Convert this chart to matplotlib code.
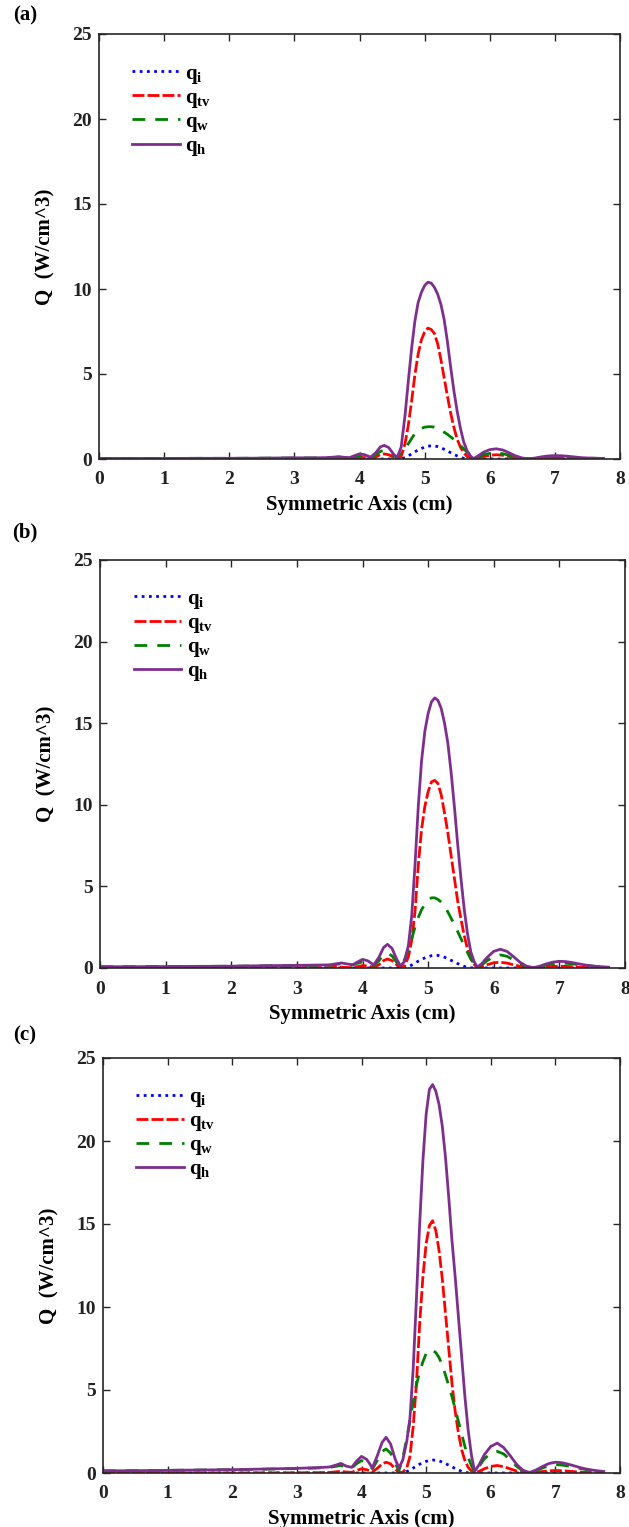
import matplotlib
matplotlib.use("Agg")
import matplotlib.pyplot as plt

plt.rcParams['font.family'] = ['Liberation Serif', 'DejaVu Serif']
plt.rcParams['font.weight'] = 'bold'
plt.rcParams['mathtext.fontset'] = 'custom'
plt.rcParams['mathtext.rm'] = 'Liberation Serif'
plt.rcParams['mathtext.bf'] = 'Liberation Serif:bold'
plt.rcParams['mathtext.it'] = 'Liberation Serif:italic'

# shared x positions (cm)
x = [0, 0.5, 1.0, 1.5, 2.0, 2.5, 3.0, 3.3, 3.5, 3.6, 3.68, 3.76, 3.85, 3.92,
     4.0, 4.08, 4.17, 4.25, 4.32, 4.38, 4.45, 4.52, 4.58, 4.64, 4.7, 4.75,
     4.8, 4.85, 4.9, 4.95, 5.0, 5.05, 5.1, 5.15, 5.2, 5.25, 5.3, 5.35, 5.4,
     5.45, 5.5, 5.55, 5.6, 5.65, 5.7, 5.75, 5.82, 5.9, 6.0, 6.1, 6.2, 6.3,
     6.4, 6.5, 6.6, 6.7, 6.8, 6.9, 7.0, 7.1, 7.2, 7.3, 7.4, 7.5, 7.6, 7.75]

qi_vals = [0, 0, 0, 0, 0, 0, 0, 0, 0, 0, 0, 0, 0, 0,
           0, 0, 0, 0, 0, 0, 0, 0, 0, 0.01, 0.08, 0.18,
           0.3, 0.42, 0.53, 0.62, 0.7, 0.75, 0.78, 0.77, 0.73, 0.66, 0.57, 0.47, 0.37,
           0.27, 0.18, 0.1, 0.04, 0.01, 0, 0, 0, 0, 0, 0, 0, 0,
           0, 0, 0, 0, 0, 0, 0, 0, 0, 0, 0, 0, 0, 0]

# ---------- panel (a) ----------
a_qi = qi_vals
a_qtv = [0, 0, 0, 0, 0, 0, 0.01, 0.01, 0.01, 0.02, 0.03, 0.02, 0.01, 0.05,
         0.1, 0.08, 0.03, 0.12, 0.26, 0.3, 0.25, 0.1, 0.01, 0.15, 0.92, 2.0,
         3.39, 4.93, 6.16, 7.0, 7.47, 7.7, 7.62, 7.39, 6.78, 5.85, 4.77, 3.7, 2.7,
         1.85, 1.16, 0.69, 0.39, 0.15, 0.08, 0.0, 0.06, 0.14, 0.22, 0.25, 0.22, 0.14,
         0.07, 0.02, 0.0, 0.02, 0.05, 0.07, 0.08, 0.07, 0.06, 0.04, 0.02, 0.01, 0.01, 0.0]
a_qw = [0.03, 0.03, 0.03, 0.04, 0.04, 0.05, 0.06, 0.06, 0.07, 0.09, 0.1, 0.08, 0.07, 0.14,
        0.2, 0.17, 0.08, 0.25, 0.45, 0.5, 0.42, 0.2, 0.08, 0.45, 0.65, 0.9,
        1.2, 1.5, 1.68, 1.8, 1.87, 1.9, 1.9, 1.87, 1.8, 1.7, 1.58, 1.45, 1.3,
        1.15, 0.98, 0.8, 0.6, 0.4, 0.2, 0.02, 0.12, 0.25, 0.33, 0.35, 0.31, 0.22,
        0.11, 0.04, 0.01, 0.04, 0.08, 0.11, 0.12, 0.12, 0.1, 0.08, 0.06, 0.05, 0.04, 0.03]
a_qh = [0.03, 0.03, 0.03, 0.04, 0.04, 0.05, 0.07, 0.07, 0.08, 0.11, 0.14, 0.1, 0.08, 0.19,
        0.3, 0.25, 0.11, 0.37, 0.71, 0.8, 0.67, 0.3, 0.09, 0.7, 2.6, 4.6,
        6.5, 8.1, 9.2, 9.8, 10.2, 10.4, 10.35, 10.1, 9.7, 9.1, 8.2, 6.9, 5.4,
        4.0, 2.8, 1.8, 1.0, 0.5, 0.2, 0.02, 0.18, 0.39, 0.55, 0.6, 0.53, 0.36,
        0.18, 0.06, 0.01, 0.06, 0.13, 0.18, 0.2, 0.19, 0.16, 0.12, 0.08, 0.06, 0.05, 0.03]

# ---------- panel (b) ----------
b_qi = qi_vals
b_qtv = [0, 0, 0, 0, 0, 0.01, 0.01, 0.02, 0.02, 0.04, 0.05, 0.03, 0.02, 0.08,
         0.15, 0.12, 0.04, 0.2, 0.45, 0.55, 0.45, 0.2, 0.02, 0.12, 0.69, 1.7,
         3.45, 6.3, 8.5, 9.9, 10.8, 11.4, 11.5, 11.3, 10.6, 9.5, 8.3, 6.9, 5.5,
         4.1, 3.0, 2.0, 1.15, 0.58, 0.23, 0.02, 0.08, 0.2, 0.32, 0.35, 0.3, 0.2,
         0.1, 0.03, 0.0, 0.03, 0.07, 0.1, 0.11, 0.1, 0.08, 0.05, 0.03, 0.02, 0.01, 0.0]
b_qw = [0.08, 0.08, 0.09, 0.1, 0.11, 0.13, 0.15, 0.16, 0.17, 0.22, 0.26, 0.22, 0.18, 0.28,
        0.38, 0.32, 0.15, 0.45, 0.8, 0.9, 0.75, 0.35, 0.1, 0.5, 1.2, 1.8,
        2.5, 3.1, 3.57, 3.9, 4.17, 4.3, 4.3, 4.2, 4.04, 3.78, 3.44, 3.05, 2.67,
        2.24, 1.8, 1.38, 0.95, 0.56, 0.26, 0.02, 0.2, 0.45, 0.7, 0.8, 0.72, 0.5,
        0.25, 0.08, 0.02, 0.08, 0.18, 0.26, 0.3, 0.29, 0.25, 0.2, 0.15, 0.11, 0.08, 0.05]
b_qh = [0.08, 0.08, 0.09, 0.1, 0.11, 0.14, 0.16, 0.18, 0.19, 0.26, 0.31, 0.25, 0.2, 0.36,
        0.53, 0.44, 0.19, 0.65, 1.25, 1.45, 1.2, 0.55, 0.12, 0.4, 1.4, 3.2,
        6.3, 9.9, 12.7, 14.5, 15.6, 16.3, 16.55, 16.4, 15.9, 15.0, 13.8, 12.0, 9.9,
        7.6, 5.5, 3.6, 2.1, 1.0, 0.4, 0.05, 0.28, 0.65, 1.02, 1.15, 1.02, 0.7,
        0.35, 0.11, 0.02, 0.11, 0.25, 0.36, 0.41, 0.39, 0.33, 0.25, 0.18, 0.13, 0.09, 0.05]

# ---------- panel (c) ----------
c_qi = qi_vals
c_qtv = [0, 0, 0, 0, 0, 0.01, 0.01, 0.02, 0.03, 0.07, 0.1, 0.06, 0.04, 0.15,
         0.25, 0.2, 0.06, 0.3, 0.55, 0.65, 0.55, 0.25, 0.02, 0.05, 0.3, 1.0,
         2.8, 5.4, 9.0, 11.8, 13.8, 14.9, 15.2, 14.6, 13.4, 11.7, 9.6, 7.5, 5.4,
         3.7, 2.4, 1.4, 0.75, 0.35, 0.12, 0.02, 0.1, 0.25, 0.4, 0.45, 0.38, 0.25,
         0.12, 0.04, 0.0, 0.04, 0.09, 0.13, 0.15, 0.14, 0.11, 0.08, 0.05, 0.03, 0.02, 0.0]
c_qw = [0.13, 0.14, 0.16, 0.18, 0.2, 0.23, 0.27, 0.3, 0.33, 0.4, 0.45, 0.36, 0.3, 0.55,
        0.75, 0.62, 0.25, 0.8, 1.3, 1.45, 1.2, 0.6, 0.15, 0.9, 2.1, 3.1,
        4.3, 5.3, 6.1, 6.7, 7.2, 7.4, 7.4, 7.25, 6.95, 6.5, 5.9, 5.25, 4.6,
        3.85, 3.1, 2.35, 1.6, 0.95, 0.45, 0.05, 0.4, 0.85, 1.2, 1.3, 1.15, 0.8,
        0.4, 0.12, 0.03, 0.14, 0.3, 0.44, 0.5, 0.48, 0.42, 0.34, 0.26, 0.19, 0.14, 0.09]
c_qh = [0.13, 0.14, 0.16, 0.18, 0.2, 0.24, 0.28, 0.32, 0.36, 0.47, 0.58, 0.42, 0.34, 0.7,
        1.0, 0.82, 0.31, 1.1, 1.85, 2.15, 1.75, 0.85, 0.3, 0.8, 1.9, 3.3,
        6.3, 10.5, 15.0, 18.8, 21.6, 23.1, 23.4, 23.0, 22.2, 20.9, 19.0, 16.6, 14.0,
        11.8, 9.4, 7.0, 4.6, 2.6, 1.1, 0.1, 0.5, 1.1, 1.6, 1.8, 1.53, 1.05,
        0.52, 0.16, 0.03, 0.18, 0.39, 0.57, 0.65, 0.62, 0.53, 0.42, 0.31, 0.22, 0.16, 0.09]

labels = [r'$\mathbf{q}_{\mathbf{i}}$', r'$\mathbf{q}_{\mathbf{tv}}$',
          r'$\mathbf{q}_{\mathbf{w}}$', r'$\mathbf{q}_{\mathbf{h}}$']
panel_tags = ['(a)', '(b)', '(c)']
x_ticks = [0, 1, 2, 3, 4, 5, 6, 7, 8]
y_ticks = [0, 5, 10, 15, 20, 25]

W, H = 629, 1527
fig = plt.figure(figsize=(W / 100, H / 100), dpi=100)

# axes boxes in pixels: left, top, right, bottom
boxes = [(99, 34, 620, 459), (100, 560, 625, 968), (103, 1058, 620, 1473)]
tag_y = [15, 532, 1035]
data = [(a_qi, a_qtv, a_qw, a_qh), (b_qi, b_qtv, b_qw, b_qh), (c_qi, c_qtv, c_qw, c_qh)]

colors = ['#0000ff', '#ff0000', '#008000', '#7e2f8e']
axcol = '#262626'

for (l, t, r, b), tag, ty, series in zip(boxes, panel_tags, tag_y, data):
    ax = fig.add_axes([l / W, 1 - b / H, (r - l) / W, (b - t) / H])
    qi, qtv, qw, qh = series
    ax.plot(x, qi, color=colors[0], lw=2.0, linestyle=(0, (1, 1.6)), label=labels[0])
    ax.plot(x, qtv, color=colors[1], lw=2.0, linestyle=(0, (4.3, 1.1)), label=labels[1])
    ax.plot(x, qw, color=colors[2], lw=2.0, linestyle=(0, (4.6, 3.6)), label=labels[2])
    ax.plot(x, qh, color=colors[3], lw=2.0, linestyle='-', label=labels[3])
    ax.set_xlim(0, 8)
    ax.set_ylim(0, 25)
    ax.set_xticks(x_ticks)
    ax.set_yticks(y_ticks)
    ax.tick_params(direction='in', top=True, right=True, length=5, width=1,
                   labelsize=14, colors=axcol, labelcolor='#222222')
    ax.tick_params(axis='x', pad=9)
    ax.tick_params(axis='y', pad=5)
    for lab in ax.get_xticklabels() + ax.get_yticklabels():
        lab.set_fontweight('bold')
    for s in ax.spines.values():
        s.set_color(axcol)
        s.set_linewidth(1.2)
    ax.set_xlabel('Symmetric Axis (cm)', fontsize=15, fontweight='bold', labelpad=5)
    ax.set_ylabel('Q  (W/cm^3)', fontsize=15, fontweight='bold', labelpad=12)
    leg = ax.legend(loc='upper left', bbox_to_anchor=(0.048, 0.95), frameon=False,
                    fontsize=15, handlelength=2.3, labelspacing=0.1,
                    handletextpad=0.25, borderaxespad=0)
    fig.text(25 / W, 1 - ty / H, tag, ha='center', va='center', fontsize=15,
             fontweight='bold')

fig.savefig('out.png', dpi=100)
